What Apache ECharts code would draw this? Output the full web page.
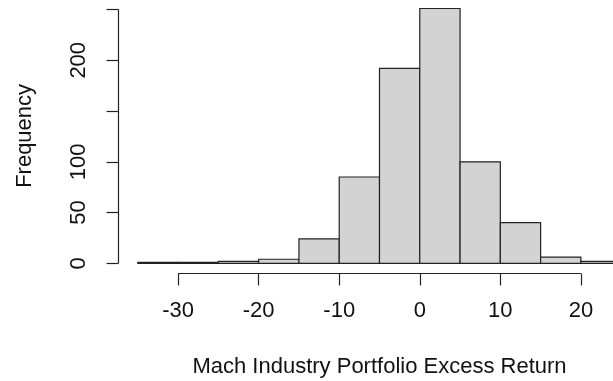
<!DOCTYPE html>
<html>
<head>
<meta charset="utf-8">
<script src="https://cdn.jsdelivr.net/npm/echarts@6/dist/echarts.min.js"></script>
<style>
  html, body { margin: 0; padding: 0; background: #fff; }
  #chart { width: 613px; height: 381px; }
</style>
</head>
<body>
<div id="chart"></div>
<script>
// Histogram of monthly excess returns, bins of width 5
const binBreaks = [-35, -30, -25, -20, -15, -10, -5, 0, 5, 10, 15, 20, 25];
const binCounts = [1, 1, 2, 4, 24, 85, 192, 251, 100, 40, 6, 2];
const xTickValues = [-30, -20, -10, 0, 10, 20];
const yTickValues = [0, 50, 100, 150, 200, 250];
const yLabelValues = [0, 50, 100, 200];

// plotting region padded by 4% on each side, base-graphics style
const xMin = -37.4, xMax = 27.4;
const yMin = -10.04, yMax = 261.04;

const textColor = '#111';
const fontFamily = 'Liberation Sans, Arial, sans-serif';
const fontSize = 22;

const bins = binCounts.map((c, i) => [binBreaks[i], binBreaks[i + 1], c]);

const chart = echarts.init(document.getElementById('chart'), null, { renderer: 'canvas' });

chart.setOption({
  animation: false,
  backgroundColor: '#fff',
  grid: { left: 118.5, top: -1.7, width: 522, height: 275.2, containLabel: false, outerBoundsMode: 'none' },
  xAxis: {
    type: 'value',
    min: xMin,
    max: xMax,
    name: 'Mach Industry Portfolio Excess Return',
    nameLocation: 'middle',
    nameGap: 82,
    nameTextStyle: { color: textColor, fontFamily, fontSize },
    axisLine: { show: false, onZero: false },
    splitLine: { show: false },
    axisTick: { show: true, length: 12, customValues: xTickValues, lineStyle: { color: '#222', width: 1.2 } },
    axisLabel: { show: true, customValues: xTickValues, margin: 26, color: textColor, fontFamily, fontSize }
  },
  yAxis: {
    type: 'value',
    min: yMin,
    max: yMax,
    name: 'Frequency',
    nameLocation: 'middle',
    nameGap: 83,
    nameTextStyle: { color: textColor, fontFamily, fontSize },
    axisLine: { show: false, onZero: false },
    splitLine: { show: false },
    axisTick: { show: true, length: 12, customValues: yTickValues, lineStyle: { color: '#222', width: 1.2 } },
    axisLabel: { show: true, customValues: yLabelValues, rotate: 90, margin: 29, color: textColor, fontFamily, fontSize }
  },
  series: [
    {
      type: 'custom',
      name: 'bins',
      data: bins,
      encode: { x: [0, 1], y: 2 },
      renderItem: function (params, api) {
        const p0 = api.coord([api.value(0), 0]);
        const p1 = api.coord([api.value(1), api.value(2)]);
        return {
          type: 'rect',
          shape: { x: p0[0], y: p1[1], width: p1[0] - p0[0], height: p0[1] - p1[1] },
          style: { fill: '#d3d3d3', stroke: '#222', lineWidth: 1.2 }
        };
      }
    },
    {
      type: 'custom',
      name: 'axes',
      data: [[0]],
      silent: true,
      renderItem: function (params, api) {
        const xa = api.coord([xTickValues[0], yMin]);
        const xb = api.coord([xTickValues[xTickValues.length - 1], yMin]);
        const ya = api.coord([xMin, yTickValues[0]]);
        const yb = api.coord([xMin, yTickValues[yTickValues.length - 1]]);
        const lineStyle = { stroke: '#222', lineWidth: 1.2 };
        return {
          type: 'group',
          children: [
            { type: 'line', shape: { x1: xa[0], y1: xa[1], x2: xb[0], y2: xb[1] }, style: lineStyle },
            { type: 'line', shape: { x1: ya[0], y1: ya[1], x2: yb[0], y2: yb[1] }, style: lineStyle }
          ]
        };
      }
    }
  ]
});
</script>
</body>
</html>
